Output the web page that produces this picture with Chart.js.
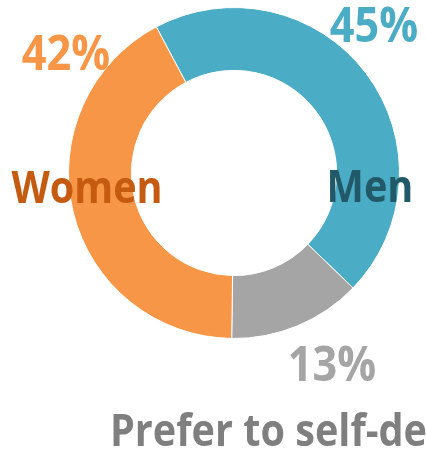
<!DOCTYPE html>
<html>
<head>
<meta charset="utf-8">
<script src="https://cdn.jsdelivr.net/npm/chart.js@4"></script>
<style>
  html, body { margin: 0; padding: 0; background: #fff; }
  #wrap { width: 426px; height: 453px; position: relative; }
</style>
</head>
<body>
<div id="wrap"><canvas id="myChart"></canvas></div>
<script>
// data
var labels = ['Men', 'Prefer to self-describe', 'Women'];
var values = [45, 13, 42];
var sliceColors = ['#4BACC6', '#A5A5A5', '#F79646'];
var nameColors = ['#215968', '#7F7F7F', '#C55A11'];

// label placement, offset from the doughnut centre (px)
var pctPos = [[140, -131], [98, 208], [-168, -103]];
var namePos = [[136, 29], [-124, 273], [-147, 30]];
var nameAlign = ['center', 'left', 'center'];

function drawText(c, txt, x, y, align, sx) {
    c.save();
    c.translate(x, y);
    c.scale(sx, 1);
    c.textAlign = align;
    c.fillText(txt, 0, 0);
    c.restore();
}

var labelPlugin = {
    id: 'sliceLabels',
    afterDatasetsDraw: function (chart) {
        var c = chart.ctx;
        var arc = chart.getDatasetMeta(0).data[0];
        var cx = arc.x, cy = arc.y;
        c.save();
        c.textBaseline = 'alphabetic';
        values.forEach(function (v, i) {
            c.fillStyle = sliceColors[i];
            c.font = 'bold 48px "Open Sans"';
            drawText(c, v + '%', cx + pctPos[i][0], cy + pctPos[i][1], 'center', 0.9);
            c.fillStyle = nameColors[i];
            c.font = 'bold 44px "Open Sans"';
            drawText(c, labels[i], cx + namePos[i][0], cy + namePos[i][1], nameAlign[i], 0.9);
        });
        c.restore();
    }
};

var ctx = document.getElementById('myChart');
var donut = new Chart(ctx, {
    type: 'doughnut',
    data: {
        labels: labels,
        datasets: [{
            data: values,
            backgroundColor: sliceColors,
            borderColor: '#ffffff',
            borderWidth: 1
        }]
    },
    options: {
        responsive: true,
        maintainAspectRatio: false,
        animation: false,
        rotation: -28,
        cutout: '62%',
        layout: {
            padding: { top: 7, bottom: 114, left: 68, right: 26 }
        },
        plugins: {
            legend: { display: false },
            tooltip: { enabled: false }
        }
    },
    plugins: [labelPlugin]
});
</script>
</body>
</html>
